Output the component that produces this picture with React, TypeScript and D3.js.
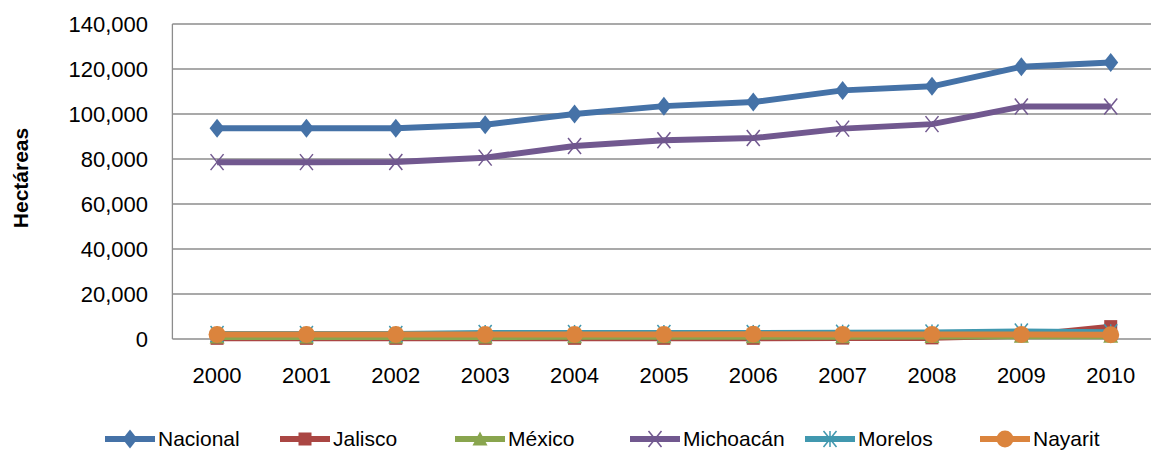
import React, { useEffect, useRef } from 'react';
import * as d3 from 'd3';

const years = ['2000', '2001', '2002', '2003', '2004', '2005', '2006', '2007', '2008', '2009', '2010'];
const yTicks = [0, 20000, 40000, 60000, 80000, 100000, 120000, 140000];

const nacional = [93700, 93700, 93700, 95200, 100000, 103500, 105300, 110500, 112300, 121000, 122900];
const jalisco = [300, 300, 300, 300, 300, 300, 300, 400, 500, 1500, 5500];
const mexico = [900, 900, 900, 900, 1000, 1000, 1000, 1000, 1100, 1200, 1200];
const michoacan = [78600, 78600, 78700, 80600, 85800, 88300, 89300, 93500, 95500, 103300, 103300];
const morelos = [2200, 2200, 2200, 2700, 2700, 2700, 2700, 2800, 2900, 3300, 3000];
const nayarit = [2000, 2000, 2000, 2000, 2000, 2000, 2100, 2000, 2000, 2000, 1900];

const seriesNames = ['Nacional', 'Jalisco', 'México', 'Michoacán', 'Morelos', 'Nayarit'];
const seriesValues = [nacional, jalisco, mexico, michoacan, morelos, nayarit];
const colors = ['#4572A7', '#AA4643', '#89A54E', '#71588F', '#4198AF', '#DB843D'];
const markers = ['diamond', 'square', 'triangle', 'x', 'star', 'circle'];

const font = '"Liberation Sans", Arial, sans-serif';

// draws one marker of the given kind centred at 0,0 inside g
function drawMarker(g, kind, color) {
    if (kind === 'diamond') {
        g.append('path').attr('d', 'M0,-9.5L7.5,0L0,9.5L-7.5,0Z').attr('fill', color);
    } else if (kind === 'square') {
        g.append('rect').attr('x', -6.5).attr('y', -6.5).attr('width', 13).attr('height', 13).attr('fill', color);
    } else if (kind === 'triangle') {
        g.append('path').attr('d', 'M0,-7.5L7.5,6.5L-7.5,6.5Z').attr('fill', color);
    } else if (kind === 'circle') {
        g.append('circle').attr('r', 8.5).attr('fill', color);
    } else {
        const lines = [[-6.5, -8, 6.5, 8], [-6.5, 8, 6.5, -8]];
        if (kind === 'star') lines.push([0, -8, 0, 8]);
        lines.forEach(l => {
            g.append('line')
                .attr('x1', l[0]).attr('y1', l[1]).attr('x2', l[2]).attr('y2', l[3])
                .attr('stroke', color).attr('stroke-width', 1.5);
        });
    }
}

const App = () => {
    const svgRef = useRef(null);

    useEffect(() => {
        const width = 1151;
        const height = 450;
        const plot = { left: 172.4, right: 1155.4, top: 24, bottom: 339 };

        const svg = d3.select(svgRef.current)
            .attr('width', width)
            .attr('height', height)
            .style('font-family', font);

        svg.selectAll('*').remove();

        const x = d3.scaleBand().domain(years).range([plot.left, plot.right]).padding(0);
        const y = d3.scaleLinear().domain([0, 140000]).range([plot.bottom, plot.top]);
        const cx = d => x(d) + x.bandwidth() / 2;

        // gridlines
        svg.append('g')
            .selectAll('line')
            .data(yTicks)
            .join('line')
            .attr('x1', plot.left)
            .attr('x2', width)
            .attr('y1', d => y(d))
            .attr('y2', d => y(d))
            .attr('stroke', '#8c8c8c')
            .attr('stroke-width', 1.3);

        // left axis line
        svg.append('line')
            .attr('x1', plot.left).attr('x2', plot.left)
            .attr('y1', plot.top).attr('y2', plot.bottom)
            .attr('stroke', '#8c8c8c').attr('stroke-width', 1.3);

        // y tick labels
        svg.append('g')
            .selectAll('text')
            .data(yTicks)
            .join('text')
            .attr('x', 148)
            .attr('y', d => y(d) + 8)
            .attr('text-anchor', 'end')
            .attr('font-size', 22)
            .attr('fill', '#000')
            .text(d => d3.format(',')(d));

        // x tick labels
        svg.append('g')
            .selectAll('text')
            .data(years)
            .join('text')
            .attr('x', d => cx(d))
            .attr('y', 383)
            .attr('text-anchor', 'middle')
            .attr('font-size', 22)
            .attr('fill', '#000')
            .text(d => d);

        // y title
        svg.append('text')
            .attr('transform', 'translate(28,178) rotate(-90)')
            .attr('text-anchor', 'middle')
            .attr('font-size', 21)
            .attr('font-weight', 'bold')
            .attr('fill', '#000')
            .text('Hectáreas');

        // series
        const line = d3.line().x((d, i) => cx(years[i])).y(d => y(d));
        seriesValues.forEach((vals, s) => {
            const g = svg.append('g');
            g.append('path')
                .datum(vals)
                .attr('d', line)
                .attr('fill', 'none')
                .attr('stroke', colors[s])
                .attr('stroke-width', 6)
                .attr('stroke-linejoin', 'round');
            vals.forEach((v, i) => {
                const m = g.append('g').attr('transform', `translate(${cx(years[i])},${y(v)})`);
                drawMarker(m, markers[s], colors[s]);
            });
        });

        // legend
        const legend = svg.append('g');
        seriesNames.forEach((name, s) => {
            const lx = 105 + s * 175;
            const ly = 439;
            const item = legend.append('g');
            item.append('line')
                .attr('x1', lx).attr('x2', lx + 50)
                .attr('y1', ly).attr('y2', ly)
                .attr('stroke', colors[s]).attr('stroke-width', 6);
            const m = item.append('g').attr('transform', `translate(${lx + 25},${ly})`);
            drawMarker(m, markers[s], colors[s]);
            item.append('text')
                .attr('x', lx + 53)
                .attr('y', ly + 7)
                .attr('font-size', 21)
                .attr('fill', '#000')
                .text(name);
        });
    }, []);

    return (
        <div style={{ position: 'absolute', left: 0, top: 0 }}>
            <svg ref={svgRef} style={{ display: 'block' }}></svg>
        </div>
    );
};

export default App;
